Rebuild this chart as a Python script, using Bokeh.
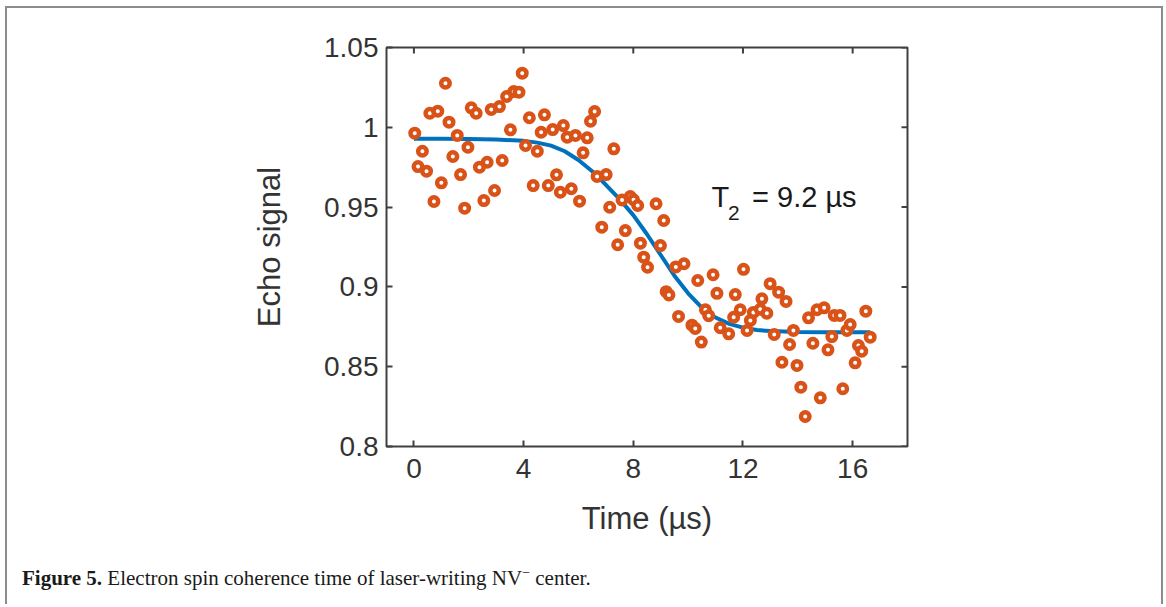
from bokeh.plotting import figure
from bokeh.models import FixedTicker, Range1d, Label, Div
from bokeh.layouts import column
from bokeh.embed import file_html
from bokeh.resources import INLINE

# ---- data ----
time_us = [0.03, 0.15, 0.31, 0.46, 0.58, 0.73, 0.87, 1.00, 1.15, 1.28, 1.42, 1.58, 1.70,
           1.85, 1.97, 2.09, 2.27, 2.39, 2.55, 2.67, 2.82, 2.94, 3.12, 3.22, 3.38, 3.52,
           3.64, 3.83, 3.95, 4.07, 4.21, 4.35, 4.50, 4.64, 4.76, 4.90, 5.06, 5.20, 5.34,
           5.45, 5.59, 5.74, 5.89, 6.04, 6.17, 6.32, 6.44, 6.59, 6.68, 6.85, 7.01, 7.14,
           7.29, 7.43, 7.59, 7.71, 7.89, 8.01, 8.16, 8.26, 8.38, 8.52, 8.83, 8.99, 9.11,
           9.20, 9.30, 9.55, 9.65, 9.85, 10.14, 10.26, 10.35, 10.48, 10.63, 10.75, 10.91,
           11.05, 11.17, 11.48, 11.66, 11.72, 11.90, 12.02, 12.15, 12.27, 12.38, 12.63,
           12.69, 12.87, 12.99, 13.14, 13.30, 13.42, 13.57, 13.70, 13.84, 13.97, 14.11,
           14.27, 14.39, 14.55, 14.70, 14.82, 14.96, 15.10, 15.24, 15.33, 15.54, 15.64,
           15.79, 15.91, 16.09, 16.21, 16.33, 16.48, 16.64]
echo = [0.9963, 0.9754, 0.9850, 0.9725, 1.0088, 0.9535, 1.0101, 0.9652, 1.0276, 1.0032,
        0.9817, 0.9949, 0.9704, 0.9493, 0.9875, 1.0122, 1.0088, 0.9750, 0.9541, 0.9781,
        1.0112, 0.9604, 1.0130, 0.9792, 1.0193, 0.9984, 1.0224, 1.0220, 1.0339, 0.9886,
        1.0060, 0.9635, 0.9850, 0.9969, 1.0078, 0.9635, 0.9986, 0.9702, 0.9593, 1.0011,
        0.9938, 0.9615, 0.9949, 0.9537, 0.9840, 0.9934, 1.0038, 1.0099, 0.9692, 0.9374,
        0.9704, 0.9499, 0.9865, 0.9264, 0.9545, 0.9353, 0.9566, 0.9546, 0.9510, 0.9274,
        0.9186, 0.9123, 0.9521, 0.9259, 0.9416, 0.8970, 0.8950, 0.9125, 0.8815, 0.9145,
        0.8760, 0.8740, 0.9040, 0.8654, 0.8857, 0.8820, 0.9076, 0.8960, 0.8744, 0.8706,
        0.8810, 0.8952, 0.8857, 0.9110, 0.8727, 0.8790, 0.8840, 0.8860, 0.8925, 0.8835,
        0.9020, 0.8702, 0.8967, 0.8528, 0.8909, 0.8639, 0.8727, 0.8508, 0.8372, 0.8188,
        0.8806, 0.8647, 0.8857, 0.8305, 0.8869, 0.8606, 0.8689, 0.8821, 0.8821, 0.8362,
        0.8727, 0.8764, 0.8524, 0.8633, 0.8597, 0.8848, 0.8685]

fit_time = [0, 1, 2, 3, 4, 4.5, 5, 5.5, 6, 6.5, 7, 7.5, 8, 8.5, 9, 9.5, 10, 10.5,
            11, 11.5, 12, 12.5, 13, 14, 15, 16, 16.64]
fit_echo = [0.9928, 0.9928, 0.9927, 0.9924, 0.9915, 0.9904, 0.9885, 0.9850, 0.9795,
            0.9725, 0.9640, 0.9550, 0.9450, 0.9330, 0.9200, 0.9070, 0.8960, 0.8870,
            0.8808, 0.8768, 0.8745, 0.8730, 0.8723, 0.8717, 0.8716, 0.8716, 0.8716]

x_ticks = [0, 4, 8, 12, 16]
y_ticks = [0.8, 0.85, 0.9, 0.95, 1.0, 1.05]
y_tick_labels = ["0.8", "0.85", "0.9", "0.95", "1", "1.05"]

FONT = "Liberation Sans"
AX = "#404040"
TXT = "#333333"
X0, X1, Y0, Y1 = -1, 18, 0.8, 1.05

p = figure(width=1154, height=548, output_backend="svg", toolbar_location=None,
           x_range=Range1d(X0, X1), y_range=Range1d(Y0, Y1),
           min_border_left=379, min_border_right=254, min_border_top=39,
           min_border_bottom=110)
p.grid.visible = False
p.outline_line_color = AX
p.outline_line_width = 2
p.background_fill_color = "white"
p.border_fill_color = "white"

# mirrored ticks on the top and right edges (MATLAB box style)
tick_dx = 6 * (X1 - X0) / 521.0
tick_dy = 6 * (Y1 - Y0) / 399.0
p.segment(x0=x_ticks, y0=[Y1] * len(x_ticks), x1=x_ticks,
          y1=[Y1 - tick_dy] * len(x_ticks), line_color=AX, line_width=2)
p.segment(x0=[X1] * len(y_ticks), y0=y_ticks, x1=[X1 - tick_dx] * len(y_ticks),
          y1=y_ticks, line_color=AX, line_width=2)

# fit line and data
p.line(fit_time, fit_echo, line_color="#0072BD", line_width=4)
p.scatter(time_us, echo, marker="circle", size=8.5, line_width=4.5,
          line_color="#D95319", fill_color="white")

def style_axis(ax):
    ax.axis_line_color = None
    ax.major_tick_line_color = AX
    ax.major_tick_line_width = 2
    ax.major_tick_in = 6
    ax.major_tick_out = 0
    ax.minor_tick_line_color = None
    ax.major_label_text_font = FONT
    ax.major_label_text_font_size = "28px"
    ax.major_label_text_color = TXT
    ax.axis_label_text_font = FONT
    ax.axis_label_text_font_size = "31px"
    ax.axis_label_text_font_style = "normal"
    ax.axis_label_text_color = TXT

xa = p.xaxis[0]
xa.ticker = FixedTicker(ticks=x_ticks)
style_axis(xa)
xa.major_label_standoff = 12
xa.axis_label = "Time (µs)"
xa.axis_label_standoff = 20

ya = p.yaxis[0]
ya.ticker = FixedTicker(ticks=y_ticks)
ya.major_label_overrides = {t: l for t, l in zip(y_ticks, y_tick_labels)}
style_axis(ya)
ya.major_label_standoff = 8
ya.axis_label = "Echo signal"
ya.axis_label_standoff = 34

# T2 annotation
p.add_layout(Label(x=10.85, y=0.9562, text="T", text_font=FONT, text_font_size="29px",
                   text_color="#1a1a1a", text_baseline="alphabetic"))
p.add_layout(Label(x=11.45, y=0.9466, text="2", text_font=FONT, text_font_size="21px",
                   text_color="#1a1a1a", text_baseline="alphabetic"))
p.add_layout(Label(x=12.33, y=0.9562, text="= 9.2 µs", text_font=FONT,
                   text_font_size="29px", text_color="#1a1a1a",
                   text_baseline="alphabetic"))

caption = Div(
    text=("<span style=\"font-family:'Liberation Serif';font-size:21px;color:#1a1a1a\">"
          "<b>Figure 5.</b> Electron spin coherence time of laser-writing NV"
          "<sup style='font-size:14px'>\u2212</sup> center.</span>"),
    width=1154, height=50, margin=0,
    styles={"padding-left": "15px", "padding-top": "7px", "box-sizing": "border-box"})

layout = column(p, caption, width=1154, margin=(8, 0, 0, 7), spacing=0,
                styles={"box-shadow": "-2px -2px 0 0 #8c8c8c, 2px -2px 0 0 #8c8c8c",
                        "background": "white"})

open("out.html", "w").write(file_html(layout, INLINE))
